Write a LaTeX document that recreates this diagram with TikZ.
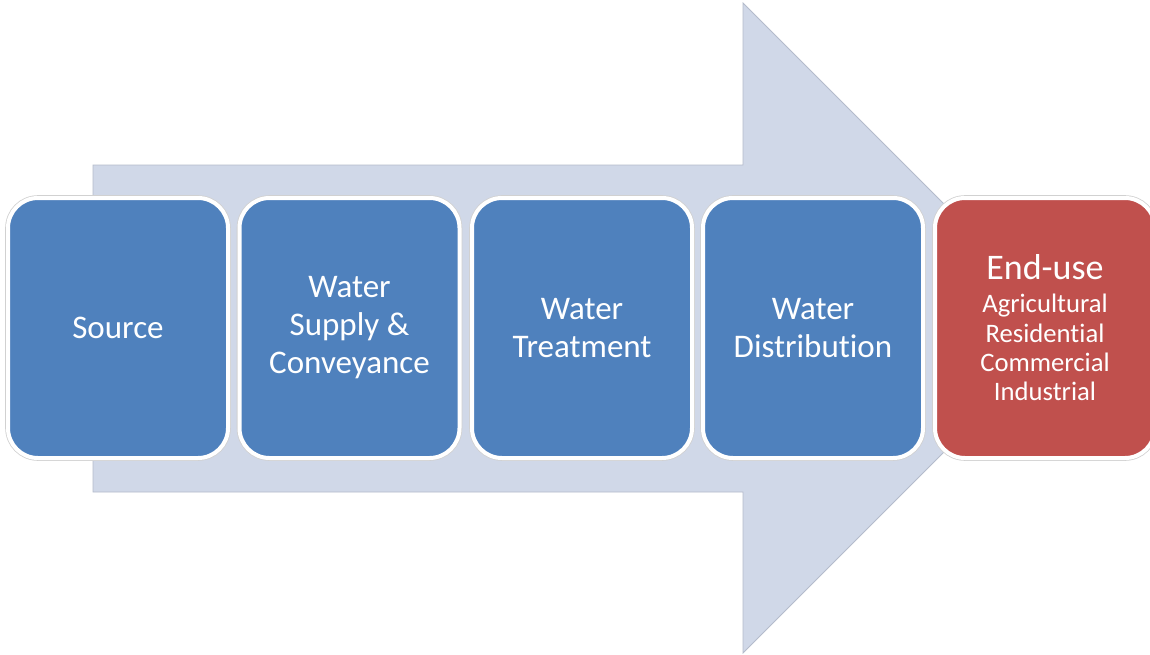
\documentclass[tikz,border=0pt]{standalone}
\usepackage{fontspec}
\setmainfont{Carlito}[Ligatures=NoCommon]
\definecolor{arrowfill}{HTML}{D0D8E8}
\definecolor{arrowedge}{HTML}{B4BBCB}
\definecolor{stepblue}{HTML}{4F81BD}
\definecolor{stepred}{HTML}{C0504D}
\tikzset{
  stagebox/.style={rectangle, rounded corners=22.5pt, minimum width=165pt, minimum height=195pt,
    draw=white, line width=3pt, text=white, align=center,
    preaction={draw=black!18, line width=4.2pt},
    font=\fontsize{24.75}{28.5}\selectfont},
  bluebox/.style={stagebox, fill=stepblue},
  redbox/.style={stagebox, fill=stepred, font=\fontsize{20}{22}\selectfont},
}
\begin{document}
\begin{tikzpicture}[x=0.75pt,y=-0.75pt]
\clip (0,0) rectangle (1150,654);
\fill[white] (0,0) rectangle (1150,654);
% big background arrow
\filldraw[fill=arrowfill, draw=arrowedge, line width=0.6pt]
  (93,165) -- (743,165) -- (743,3) -- (1068,328) -- (743,653) -- (743,492) -- (93,492) -- cycle;
% stages
\node[bluebox] (source) at (118,328) {Source};
\node[bluebox] (supply) at (349.5,328) {Water\\Supply \&\\Conveyance};
\node[bluebox] (treat) at (582,328) {Water\\Treatment};
\node[bluebox] (dist) at (813,328) {Water\\Distribution};
\node[redbox] (enduse) at (1045,328) {{\fontsize{27}{27}\selectfont End-use}\\[2.75pt]Agricultural\\Residential\\Commercial\\Industrial};
\end{tikzpicture}
\end{document}
